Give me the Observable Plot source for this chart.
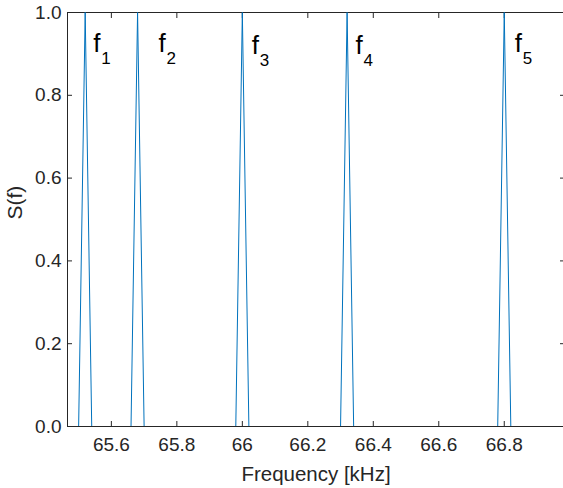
<!DOCTYPE html>
<html>
<head>
<meta charset="utf-8">
<script src="https://cdn.jsdelivr.net/npm/d3@7"></script>
<script src="https://cdn.jsdelivr.net/npm/@observablehq/plot@0.6"></script>
<style>
  html, body { margin: 0; padding: 0; background: #fff; }
  svg { display: block; }
</style>
</head>
<body>
<div id="chart"></div>
<script>
// Spectrum samples (kHz) and normalized values S(f)
const freq = [65.46, 65.50, 65.52, 65.54, 65.66, 65.68, 65.70, 65.98, 66.00, 66.02, 66.30, 66.32, 66.34, 66.78, 66.80, 66.82, 66.98];
const sVals = [0, 0, 1, 0, 0, 1, 0, 0, 1, 0, 0, 1, 0, 0, 1, 0, 0];

// Peak annotations
const labelMain = ["f", "f", "f", "f", "f"];
const labelSub = ["1", "2", "3", "4", "5"];
const labelX = [65.545, 65.744, 66.029, 66.346, 66.832];
const labelY = [0.905, 0.905, 0.9, 0.9, 0.905];

// Ticks
const xTicks = [65.6, 65.8, 66, 66.2, 66.4, 66.6, 66.8];
const xTickLabels = ["65.6", "65.8", "66", "66.2", "66.4", "66.6", "66.8"];
const yTicks = [0, 0.2, 0.4, 0.6, 0.8, 1.0];
const yTickLabels = ["0.0", "0.2", "0.4", "0.6", "0.8", "1.0"];

const data = freq.map((f, i) => ({f, s: sVals[i]}));
const labels = labelX.map((x, i) => ({x, y: labelY[i], main: labelMain[i], sub: labelSub[i]}));

const axisColor = "#262626";
const font = "Arial, 'Liberation Sans', Helvetica, sans-serif";

const chart = Plot.plot({
  width: 563,
  height: 488,
  marginLeft: 67,
  marginRight: -1,
  marginTop: 12,
  marginBottom: 62,
  style: {fontFamily: font, background: "#fff", color: axisColor},
  x: {domain: [65.466, 66.984]},
  y: {domain: [0, 1]},
  marks: [
    Plot.frame({stroke: axisColor, strokeWidth: 1}),
    // x tick labels
    Plot.axisX({ticks: xTicks, tickSize: 0, tickPadding: 11, tickFormat: (d, i) => xTickLabels[i], fontSize: 19, fill: axisColor, label: null}),
    // inward ticks bottom & top
    Plot.axisX({ticks: xTicks, tickSize: -5, tickFormat: () => "", stroke: axisColor, label: null}),
    Plot.axisX({anchor: "top", ticks: xTicks, tickSize: -5, tickFormat: () => "", stroke: axisColor, label: null}),
    // y tick labels
    Plot.axisY({ticks: yTicks, tickSize: 0, tickPadding: 6, tickFormat: (d, i) => yTickLabels[i], fontSize: 19, fill: axisColor, label: null}),
    Plot.axisY({ticks: yTicks, tickSize: -5, tickFormat: () => "", stroke: axisColor, label: null}),
    Plot.axisY({anchor: "right", ticks: yTicks, tickSize: -5, tickFormat: () => "", stroke: axisColor, label: null}),
    // axis titles
    Plot.text(["Frequency [kHz]"], {frameAnchor: "bottom", dy: 54, lineAnchor: "bottom", fontSize: 20.5, fill: axisColor, style: "letter-spacing:1px"}),
    Plot.text(["S(f)"], {frameAnchor: "left", dx: -52, rotate: -90, lineAnchor: "middle", fontSize: 21, fill: axisColor}),
    // spectrum line
    Plot.line(data, {x: "f", y: "s", stroke: "#0072BD", strokeWidth: 1, clip: true}),
    // peak labels
    Plot.text(labels, {x: "x", y: "y", text: "main", textAnchor: "start", lineAnchor: "bottom", fontSize: 26, fill: "#000"}),
    Plot.text(labels, {x: "x", y: "y", text: "sub", textAnchor: "start", lineAnchor: "bottom", dx: 8, dy: 12, fontSize: 17, fill: "#000"})
  ]
});

document.getElementById("chart").appendChild(chart);
</script>
</body>
</html>
